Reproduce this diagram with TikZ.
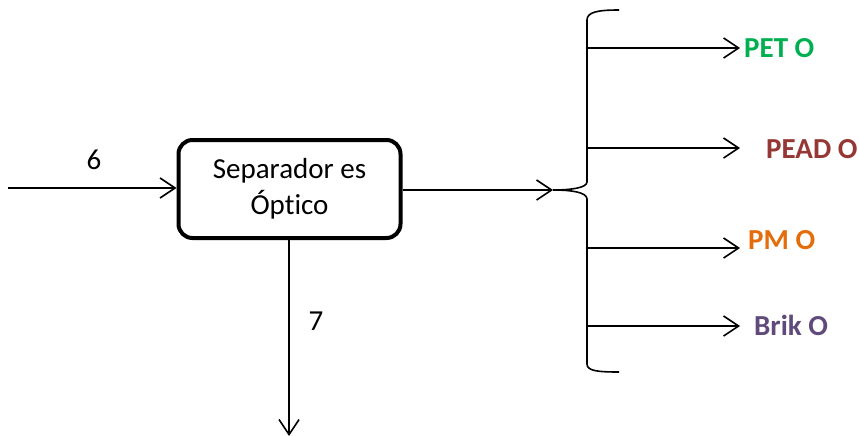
\documentclass[tikz,border=0pt]{standalone}
\usepackage{fontspec}
\setmainfont{Carlito}[Ligatures=NoCommon]
\usetikzlibrary{arrows.meta}
\definecolor{petgreen}{HTML}{00B050}
\definecolor{peadred}{HTML}{953735}
\definecolor{pmorange}{HTML}{E46C0A}
\definecolor{brikpurple}{HTML}{604A7B}
\begin{document}
\begin{tikzpicture}[x=1pt,y=-1pt,
  flow/.style={line width=1.6pt,-{Straight Barb[length=15pt,width=20pt,line width=1.6pt]}},
  unit/.style={draw,line width=4pt,rounded corners=14pt,minimum width=222pt,minimum height=98pt,
    align=center,font=\fontsize{29}{36}\selectfont},
  lbl/.style={font=\fontsize{29}{34}\selectfont},
  prod/.style={anchor=west,inner sep=0pt,font=\fontsize{29}{34}\selectfont\bfseries}]
\useasboundingbox (0,0) rectangle (859,436);

% separator unit
\node[unit] (sep) at (289.5,189) {Separador es\\Óptico};

% feed stream 6
\coordinate (in) at (8,188);
\draw[flow] (in) -- (sep.west |- in);
\node[lbl] (n6) at (94,160) {6};

% reject stream 7
\coordinate (out7) at (289,436);
\draw[flow] (sep.south -| out7) -- (out7);
\node[lbl] (n7) at (316,321) {7};

% product stream to the distribution brace
\coordinate (tip) at (553,190);
\draw[flow] (sep.east |- tip) -- (tip);

% brace
\draw[line width=1.6pt] (619,10) .. controls (598,10) and (587,12) .. (587,20) -- (587,182)
  .. controls (587,188) and (570,190) .. (tip);
\draw[line width=1.6pt] (tip) .. controls (570,190) and (587,192) .. (587,199) -- (587,364)
  .. controls (587,371) and (598,372) .. (619,372);

% products
\coordinate (b1) at (587,48);
\coordinate (b2) at (587,148);
\coordinate (b3) at (587,248);
\coordinate (b4) at (587,326);
\coordinate (e1) at (740,48);
\coordinate (e2) at (740,148);
\coordinate (e3) at (740,248);
\coordinate (e4) at (740,326);
\draw[flow] (b1) -- (e1);
\draw[flow] (b2) -- (e2);
\draw[flow] (b3) -- (e3);
\draw[flow] (b4) -- (e4);
\node[prod,text=petgreen] (pet) at (744,48) {PET O};
\node[prod,text=peadred] (pead) at (766,149) {PEAD O};
\node[prod,text=pmorange] (pm) at (748,240) {PM O};
\node[prod,text=brikpurple] (brik) at (754,325) {Brik O};
\end{tikzpicture}
\end{document}
